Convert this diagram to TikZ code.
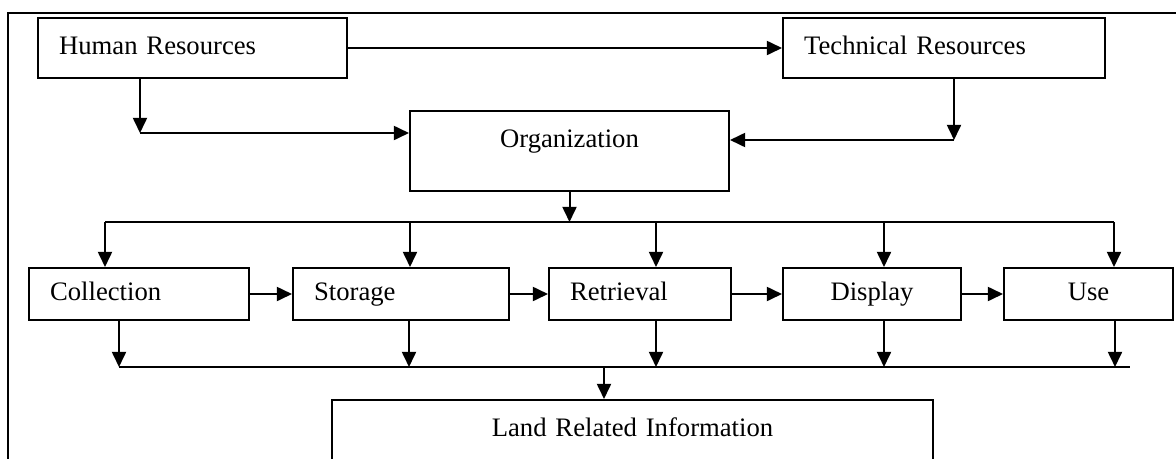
\documentclass[tikz,border=0pt]{standalone}
\usepackage{fontspec}
\setmainfont{Liberation Serif}
\usetikzlibrary{arrows.meta}

\begin{document}
\begin{tikzpicture}[x=0.45pt,y=-0.45pt,
		every node/.style={font=\fontsize{12}{14}\selectfont},
		box/.style={draw,line width=.9pt,anchor=north west,inner ysep=0pt,text height=8pt,text depth=2.5pt},
		lbox/.style={box,inner xsep=9.5pt,align=left},
		cbox/.style={box,inner xsep=0pt,align=center},
		tallbox/.style={cbox,text height=16.6pt,text depth=19.4pt},
		arr/.style={line width=.9pt,-{Triangle[length=6.8pt,width=6.3pt]}},
		line/.style={line width=.9pt}]
			\useasboundingbox (0,0) rectangle (1176,458);
			\clip (0,0) rectangle (1176,458);
			\draw[line] (8,470) -- (8,13) -- (1190,13);
			
			\node[lbox,text width=120.05pt,minimum height=27pt] (hr) at (37,17) {Human Resources};
			\node[lbox,text width=125.9pt,minimum height=27pt] (tr) at (782,17) {Technical Resources};
			\node[tallbox,text width=143.55pt] (org) at (409,110) {Organization};
			
			\node[lbox,text width=80pt,minimum height=23.4pt] (col) at (28,267) {Collection};
			\node[lbox,text width=78.2pt,minimum height=23.4pt] (sto) at (292,267) {Storage};
			\node[lbox,text width=62.9pt,minimum height=23.4pt] (ret) at (548,267) {Retrieval};
			\node[cbox,text width=80.1pt,minimum height=23.4pt] (dis) at (782,267) {Display};
			\node[cbox,text width=76.05pt,minimum height=23.4pt] (use) at (1003,267) {Use};
			
			\node[tallbox,text width=270.45pt,text height=16.2pt,text depth=19.8pt] (land) at (331,399) {Land Related Information};
			
			\coordinate (hrc) at (140,133);
			\coordinate (trc) at (954,140);
			\coordinate (busa) at (105,222);
			\coordinate (busb) at (1114,222);
			\coordinate (busc) at (119,367);
			\coordinate (busd) at (1130,367);
			\coordinate (landc) at (604,367);
			
			\draw[arr] (hr.east) -- (tr.west);
			\draw[arr] (hrc |- hr.south) -- (hrc);
			\draw[arr] (hrc) -- (hrc -| org.west);
			\draw[arr] (trc |- tr.south) -- (trc);
			\draw[arr] (trc) -- (trc -| org.east);
			
			\draw[arr] (org.south) -- (org.south |- busa);
			\draw[line] (busa) -- (busb);
			\foreach \n/\x in {col/105,sto/410,ret/656,dis/884,use/1114}{
				\coordinate (in-\n) at (\x,222);
				\draw[arr] (in-\n) -- (in-\n |- \n.north);
			}
			
			\draw[arr] (col.east) -- (sto.west);
			\draw[arr] (sto.east) -- (ret.west);
			\draw[arr] (ret.east) -- (dis.west);
			\draw[arr] (dis.east) -- (use.west);
			
			\foreach \n/\x in {col/119,sto/409,ret/656,dis/884,use/1115}{
				\coordinate (out-\n) at (\x,367);
				\draw[arr] (out-\n |- \n.south) -- (out-\n);
			}
			\draw[line] (busc) -- (busd);
			\draw[arr] (landc) -- (landc |- land.north);
		\end{tikzpicture}
\end{document}
